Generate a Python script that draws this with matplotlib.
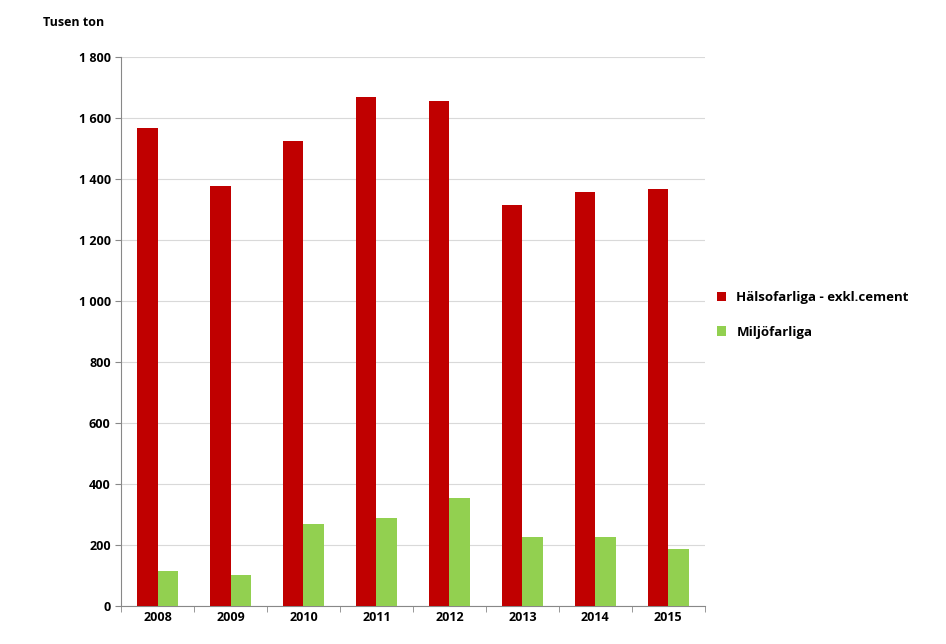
import matplotlib
matplotlib.use("Agg")
import matplotlib.pyplot as plt
import numpy as np

years = ["2008", "2009", "2010", "2011", "2012", "2013", "2014", "2015"]
halso = [1567, 1377, 1525, 1669, 1656, 1315, 1357, 1367]
miljo = [115, 102, 269, 289, 354, 226, 226, 187]
yticks = list(range(0, 1801, 200))

plt.rcParams["font.family"] = "Open Sans"
plt.rcParams["font.weight"] = "bold"

fig = plt.figure(figsize=(9.46, 6.44), dpi=100)
ax = fig.add_axes([0.128, 0.059, 0.617, 0.8525])
x = np.arange(len(years))
w = 0.28
ax.bar(x - w / 2, halso, w, color="#C00000", label="Hälsofarliga - exkl.cement", zorder=3)
ax.bar(x + w / 2, miljo, w, color="#92D050", label="Miljöfarliga", zorder=3)

ax.set_xlim(-0.5, len(years) - 0.5)
ax.set_ylim(0, 1800)
ax.set_yticks(yticks)
ax.set_yticklabels([f"{v:,}".replace(",", " ") for v in yticks], fontsize=9, fontweight="bold")
ax.set_xticks(x)
ax.set_xticklabels(years, fontsize=9, fontweight="bold")
ax.tick_params(axis="x", length=0)
ax.set_xticks(np.arange(-0.5, len(years)), minor=True)
ax.tick_params(axis="x", which="minor", length=4, color="#888888")
ax.tick_params(axis="y", length=4, color="#888888")
ax.grid(axis="y", color="#D9D9D9", lw=0.8, zorder=0)
for s in ax.spines.values():
    s.set_color("#888888")
ax.spines["top"].set_visible(False)
ax.spines["right"].set_visible(False)

fig.text(0.045, 0.965, "Tusen ton", fontsize=9, fontweight="bold", va="center")
ax.legend(loc="center left", bbox_to_anchor=(1.0, 0.53), frameon=False,
          fontsize=9.5, handlelength=0.7, handleheight=0.7, labelspacing=1.6,
          prop={"weight": "bold", "size": 9.5})

fig.savefig("out.png", dpi=100)
